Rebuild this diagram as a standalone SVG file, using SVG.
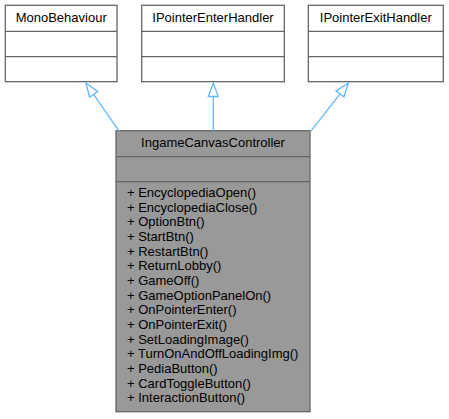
<svg xmlns="http://www.w3.org/2000/svg" width="449" height="419" viewBox="0 0 449 419">
<style>
.box{fill:#ffffff;stroke:#666666;stroke-width:1.3}
.main{fill:#999999;stroke:#666666;stroke-width:1.3}
.sep{stroke:#666666;stroke-width:1.3;fill:none}
.t{font-family:"Liberation Sans",Arial,Helvetica,sans-serif;font-size:13px;fill:#000000}
.c{text-anchor:middle}
.edge{stroke:#63b8ff;stroke-width:1.3;fill:none;marker-end:url(#hollow)}
</style>
<defs>
<marker id="hollow" markerUnits="userSpaceOnUse" markerWidth="15" markerHeight="11" refX="13.5" refY="5" orient="auto" overflow="visible">
<path d="M0,0 L13.5,5 L0,10 Z" fill="#ffffff" stroke="#63b8ff" stroke-width="1.3"/>
</marker>
</defs>
<rect width="449" height="419" fill="#ffffff"/>
<g id="MonoBehaviour">
<rect class="box" x="5.3" y="5.3" width="111.7" height="76.4"/>
<line class="sep" x1="5.3" y1="31.3" x2="117" y2="31.3"/>
<line class="sep" x1="5.3" y1="56.7" x2="117" y2="56.7"/>
<text class="t c" x="61.2" y="22">MonoBehaviour</text>
</g>
<g id="IPointerEnterHandler">
<rect class="box" x="141.7" y="5.3" width="142.6" height="76.4"/>
<line class="sep" x1="141.7" y1="31.3" x2="284.3" y2="31.3"/>
<line class="sep" x1="141.7" y1="56.7" x2="284.3" y2="56.7"/>
<text class="t c" x="213" y="22">IPointerEnterHandler</text>
</g>
<g id="IPointerExitHandler">
<rect class="box" x="308.3" y="5.3" width="135" height="76.4"/>
<line class="sep" x1="308.3" y1="31.3" x2="443.3" y2="31.3"/>
<line class="sep" x1="308.3" y1="56.7" x2="443.3" y2="56.7"/>
<text class="t c" x="375.8" y="22">IPointerExitHandler</text>
</g>
<g id="IngameCanvasController">
<rect class="main" x="116" y="130.7" width="194" height="281"/>
<line class="sep" x1="116" y1="156.7" x2="310" y2="156.7"/>
<line class="sep" x1="116" y1="181.7" x2="310" y2="181.7"/>
<text class="t c" x="213" y="147.3">IngameCanvasController</text>
<text class="t" x="127">
<tspan x="127" y="197">+ EncyclopediaOpen()</tspan>
<tspan x="127" y="211.67">+ EncyclopediaClose()</tspan>
<tspan x="127" y="226.33">+ OptionBtn()</tspan>
<tspan x="127" y="241">+ StartBtn()</tspan>
<tspan x="127" y="255.67">+ RestartBtn()</tspan>
<tspan x="127" y="270.33">+ ReturnLobby()</tspan>
<tspan x="127" y="285">+ GameOff()</tspan>
<tspan x="127" y="299.67">+ GameOptionPanelOn()</tspan>
<tspan x="127" y="314.33">+ OnPointerEnter()</tspan>
<tspan x="127" y="329">+ OnPointerExit()</tspan>
<tspan x="127" y="343.67">+ SetLoadingImage()</tspan>
<tspan x="127" y="358.33">+ TurnOnAndOffLoadingImg()</tspan>
<tspan x="127" y="373">+ PediaButton()</tspan>
<tspan x="127" y="387.67">+ CardToggleButton()</tspan>
<tspan x="127" y="402.33">+ InteractionButton()</tspan>
</text>
</g>
<g id="connectors">
<line class="edge" x1="119.3" y1="131.3" x2="86" y2="83.3"/>
<line class="edge" x1="213.3" y1="130.7" x2="213.3" y2="83"/>
<line class="edge" x1="310.5" y1="131.7" x2="348.3" y2="83.3"/>
</g>
</svg>
